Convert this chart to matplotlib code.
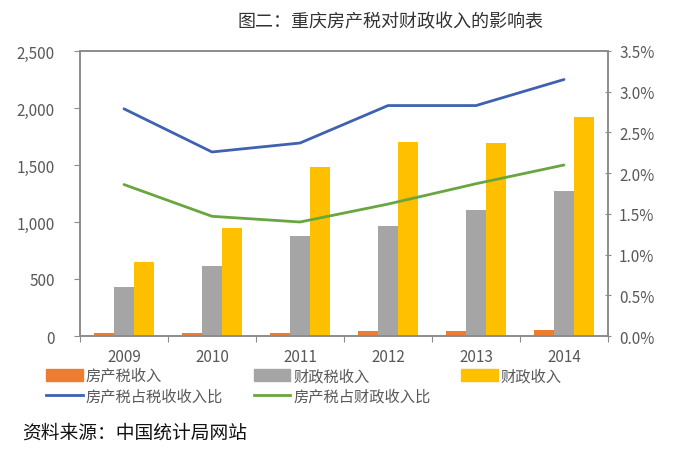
import matplotlib
matplotlib.use("Agg")
import matplotlib.pyplot as plt
import numpy as np
from matplotlib.ticker import FuncFormatter, MultipleLocator
from matplotlib.patches import Patch
from matplotlib.lines import Line2D

plt.rcParams['font.family'] = ['Noto Sans CJK SC', 'DejaVu Sans']

years = ['2009', '2010', '2011', '2012', '2013', '2014']
property_tax = [22, 22, 30, 40, 45, 55]            # 房产税收入
fiscal_tax = [432, 617, 877, 967, 1105, 1275]       # 财政税收入
fiscal_revenue = [646, 945, 1485, 1699, 1690, 1918] # 财政收入
share_tax = [2.79, 2.26, 2.37, 2.83, 2.83, 3.15]    # 房产税占税收收入比 (%)
share_fiscal = [1.86, 1.47, 1.40, 1.62, 1.87, 2.10] # 房产税占财政收入比 (%)

c_orange = '#ED7D31'
c_gray = '#A5A5A5'
c_yellow = '#FFC000'
c_blue = '#3F62B0'
c_green = '#68A63F'
axis_c = '#8C8C8C'
text_c = '#595959'

fig = plt.figure(figsize=(6.82, 4.56), dpi=100)
ax = fig.add_axes([80/682, 1-337/456, (608-80)/682, (337-52)/456])
ax2 = ax.twinx()

x = np.arange(len(years))
w = 0.225
ax.bar(x - w, property_tax, w, color=c_orange, zorder=2)
ax.bar(x, fiscal_tax, w, color=c_gray, zorder=2)
ax.bar(x + w, fiscal_revenue, w, color=c_yellow, zorder=2)

ax2.plot(x, share_tax, color=c_blue, lw=2.0, solid_capstyle='round')
ax2.plot(x, share_fiscal, color=c_green, lw=2.0, solid_capstyle='round')

ax.set_xlim(-0.5, len(years) - 0.5)
ax.set_ylim(0, 2500)
ax2.set_ylim(0, 3.5)
ax.yaxis.set_major_locator(MultipleLocator(500))
ax2.yaxis.set_major_locator(MultipleLocator(0.5))
ax.yaxis.set_major_formatter(FuncFormatter(lambda v, p: f'{int(v):,}'))
ax2.yaxis.set_major_formatter(FuncFormatter(lambda v, p: f'{v:.1f}%'))

# x ticks at category boundaries, labels at centers
ax.set_xticks(np.arange(-0.5, len(years), 1.0))
ax.set_xticklabels([])
ax.set_xticks(x, minor=True)
ax.set_xticklabels(years, minor=True)
ax.tick_params(axis='x', which='major', length=4, direction='out', color=axis_c)
ax.tick_params(axis='x', which='minor', length=0, pad=9, labelsize=11, labelcolor=text_c)
ax.tick_params(axis='y', length=4, direction='out', color=axis_c, labelsize=11, labelcolor=text_c, pad=14)
ax2.tick_params(axis='y', length=4, direction='inout', color=axis_c, labelsize=11, labelcolor=text_c, pad=6)

for a in (ax, ax2):
    for s in a.spines.values():
        s.set_color(axis_c)
        s.set_linewidth(1.2)

handles = [Patch(color=c_orange), Line2D([], [], color=c_blue, lw=2),
           Patch(color=c_gray), Line2D([], [], color=c_green, lw=2),
           Patch(color=c_yellow)]
labels = ['房产税收入', '房产税占税收收入比', '财政税收入', '房产税占财政收入比', '财政收入']
fig.legend(handles, labels, ncol=3, loc='upper left',
           bbox_to_anchor=(40/682, 1-362/456), frameon=False,
           fontsize=11, labelcolor=text_c, handlelength=2.4, handleheight=0.8,
           handletextpad=0.2, columnspacing=2.0, labelspacing=0.25, borderaxespad=0)

fig.text(390/682, 1-22/456, '图二：重庆房产税对财政收入的影响表', ha='center', va='center',
         fontsize=13, color='#333333')
fig.text(22/682, 1-433/456, '资料来源：中国统计局网站', ha='left', va='center',
         fontsize=13.5, color='#111111')

fig.savefig('out.png', dpi=100)
